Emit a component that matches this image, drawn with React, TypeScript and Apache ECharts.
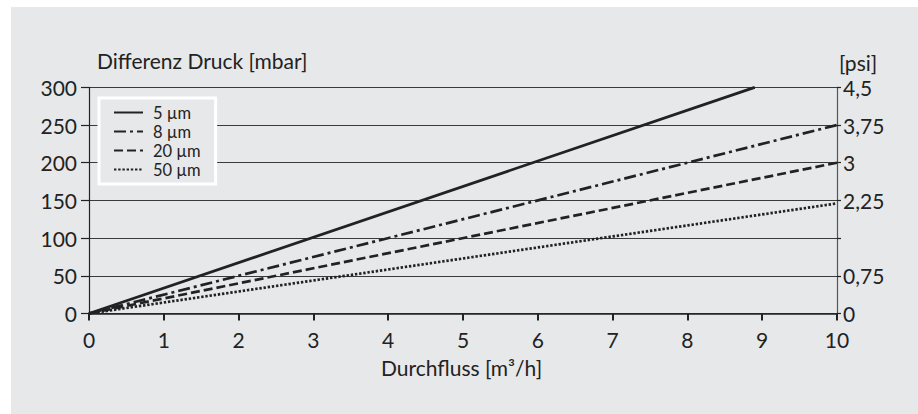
import React, { useEffect, useRef } from "react";
import * as echarts from "echarts";

const seriesNames = ["5 µm", "8 µm", "20 µm", "50 µm"];
const flow5 = [0, 8.9];
const pressure5 = [0, 300];
const flow8 = [0, 10];
const pressure8 = [0, 250];
const flow20 = [0, 10];
const pressure20 = [0, 200];
const flow50 = [0, 10];
const pressure50 = [0, 146];
const psiHiddenLabels = [1.5];

const FONT = "Lato";
const INK = "#222222";
const BG = "#e7e8ea";

function pairs(xs: number[], ys: number[]) {
  return xs.map((x, i) => [x, ys[i]]);
}

export default function App() {
  const ref = useRef<HTMLDivElement>(null);
  useEffect(() => {
    if (!ref.current) return;
    const chart = echarts.init(ref.current, undefined, { renderer: "svg" });
    const dashTypes: any[] = ["solid", [12, 4, 3, 4], [9, 4], [2.4, 1.8]];
    const dataSets = [
      pairs(flow5, pressure5),
      pairs(flow8, pressure8),
      pairs(flow20, pressure20),
      pairs(flow50, pressure50),
    ];
    chart.setOption({
      animation: false,
      backgroundColor: "transparent",
      textStyle: { fontFamily: FONT, color: INK },
      grid: { left: 89, right: 81, top: 87.3, bottom: 100.5 },
      legend: {
        orient: "vertical",
        left: 99,
        top: 98,
        data: seriesNames,
        itemWidth: 29,
        itemHeight: 14,
        itemGap: 2,
        padding: [6, 15, 6, 14],
        backgroundColor: BG,
        borderColor: "#ffffff",
        borderWidth: 3,
        itemStyle: { opacity: 0, borderWidth: 0 },
        textStyle: { fontFamily: FONT, fontSize: 16.5, color: INK, padding: [0, 0, 0, 5] },
      },
      graphic: [
        {
          type: "text",
          left: 97,
          top: 50,
          style: { text: "Differenz Druck [mbar]", font: `21px ${FONT}`, fill: INK },
        },
        {
          type: "text",
          left: 839,
          top: 52,
          style: { text: "[psi]", font: `21px ${FONT}`, fill: INK },
        },
        {
          type: "text",
          left: 381,
          top: 357,
          style: { text: "Durchfluss [m³/h]", font: `21px ${FONT}`, fill: INK },
        },
      ],
      xAxis: {
        type: "value",
        min: 0,
        max: 10,
        interval: 1,
        axisLine: { show: true, onZero: false, lineStyle: { color: INK, width: 1.5 } },
        axisTick: { show: true, inside: false, length: 7, lineStyle: { color: INK, width: 2 } },
        axisLabel: { fontFamily: FONT, fontSize: 21, color: INK, margin: 15 },
        splitLine: { show: false },
      },
      yAxis: [
        {
          type: "value",
          position: "left",
          min: 0,
          max: 300,
          interval: 50,
          axisLine: { show: true, lineStyle: { color: INK, width: 1.2 } },
          axisTick: { show: true, inside: false, length: 8, lineStyle: { color: INK, width: 1.2 } },
          axisLabel: { fontFamily: FONT, fontSize: 21, color: INK, margin: 12 },
          splitLine: { show: true, lineStyle: { color: "#3a3a3a", width: 1.1 } },
        },
        {
          type: "value",
          position: "right",
          min: 0,
          max: 4.5,
          interval: 0.75,
          axisLine: { show: true, lineStyle: { color: "#555555", width: 1.2 } },
          axisTick: { show: true, inside: false, length: 4, lineStyle: { color: INK, width: 1.2 } },
          axisLabel: {
            fontFamily: FONT,
            fontSize: 21,
            color: INK,
            margin: 6,
            formatter: (v: number) =>
              psiHiddenLabels.some((h) => Math.abs(h - v) < 1e-6) ? "" : String(+v.toFixed(2)).replace(".", ","),
          },
          splitLine: { show: false },
        },
      ],
      series: seriesNames.map((name, i) => ({
        name,
        type: "line",
        yAxisIndex: 0,
        symbol: "none",
        data: dataSets[i],
        lineStyle: { color: INK, width: i === 0 ? 2.8 : 2.7, type: dashTypes[i] },
        itemStyle: { color: INK },
        z: 3,
      })),
    });
    return () => chart.dispose();
  }, []);
  return (
    <div style={{ position: "fixed", left: 0, top: 0, width: 918, height: 414, background: "#ffffff" }}>
      <div style={{ position: "absolute", left: 11, top: 7, width: 907, height: 407, background: BG }} />
      <div ref={ref} style={{ position: "absolute", left: 0, top: 0, width: 918, height: 414 }} />
    </div>
  );
}
